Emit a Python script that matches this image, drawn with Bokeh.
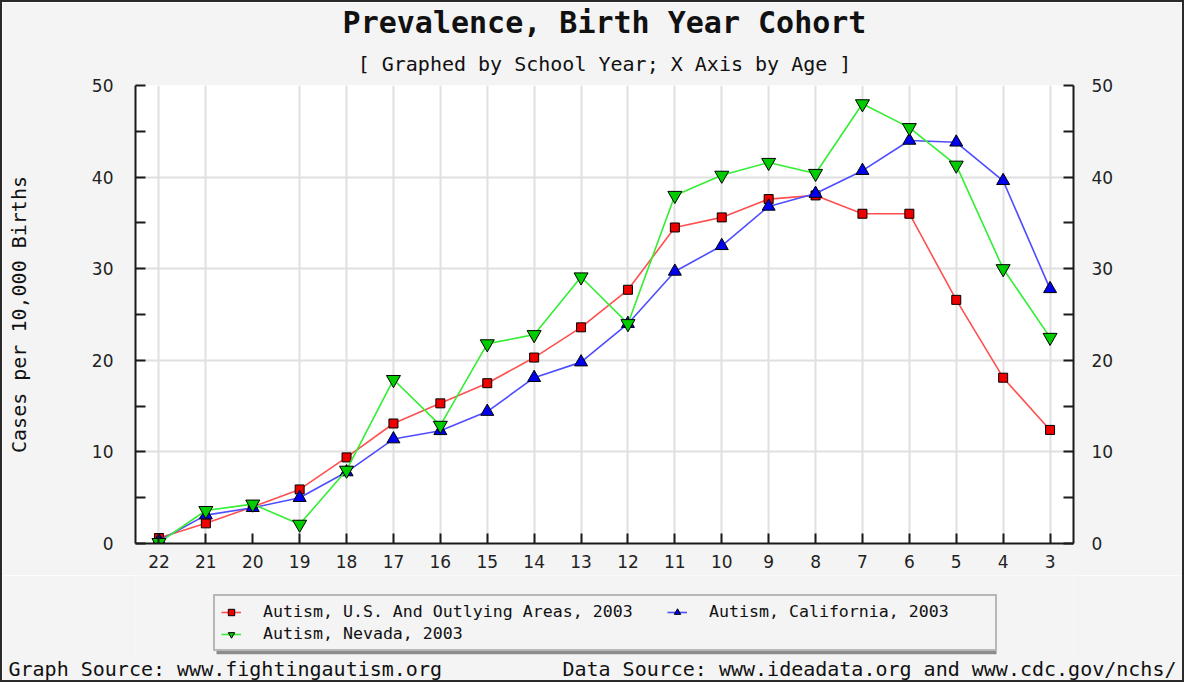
from bokeh.plotting import figure
from bokeh.layouts import column
from bokeh.models import (FactorRange, Range1d, LinearAxis, FixedTicker, Title,
                          Legend, LegendItem, BoxAnnotation)
from bokeh.embed import file_html
from bokeh.resources import INLINE

# ---- data -------------------------------------------------------------
ages = ["22", "21", "20", "19", "18", "17", "16", "15", "14", "13",
        "12", "11", "10", "9", "8", "7", "6", "5", "4", "3"]
us_vals = [0.6, 2.2, 4.0, 5.9, 9.4, 13.1, 15.3, 17.5, 20.3, 23.6,
           27.7, 34.5, 35.6, 37.6, 38.0, 36.0, 36.0, 26.6, 18.1, 12.4]
ca_vals = [0.3, 3.1, 3.9, 5.0, 7.8, 11.4, 12.3, 14.4, 18.1, 19.8,
           24.0, 29.7, 32.5, 36.8, 38.2, 40.7, 44.0, 43.8, 39.6, 27.8]
nv_vals = [0.1, 3.6, 4.3, 2.1, 8.0, 17.9, 12.9, 21.8, 22.8, 29.1,
           24.0, 38.0, 40.2, 41.6, 40.4, 48.0, 45.4, 41.3, 30.0, 22.5]
y_major = [0, 10, 20, 30, 40, 50]
y_minor = [5, 15, 25, 35, 45]

series_names = ["Autism, U.S. And Outlying Areas, 2003",
                "Autism, California, 2003",
                "Autism, Nevada, 2003"]
title_text = "Prevalence, Birth Year Cohort"
subtitle_text = "[ Graphed by School Year; X Axis by Age ]"
y_label = "Cases per 10,000 Births"
graph_source = "Graph Source: www.fightingautism.org"
data_source = "Data Source: www.ideadata.org and www.cdc.gov/nchs/"

BG = "#f4f4f4"
INK = "#111111"
MONO = "DejaVu Sans Mono"
SANS = "DejaVu Sans"
W = 1180
ML, MR = 133, 109          # frame margins shared by both figures
FRAME_W = W - ML - MR

US_STYLE = dict(line="#ff5050", fill="#ee0000", marker="square", size=9)
CA_STYLE = dict(line="#4d4dff", fill="#0000ee", marker="triangle", size=13)
NV_STYLE = dict(line="#33ee33", fill="#00cc00", marker="inverted_triangle", size=14)

# ---- main chart -------------------------------------------------------
p = figure(width=W, height=573, x_range=FactorRange(*ages),
           y_range=Range1d(0, 50), output_backend="svg",
           toolbar_location=None, min_border_left=ML, min_border_right=MR,
           min_border_top=83, min_border_bottom=32)
p.background_fill_color = "white"
p.border_fill_color = BG
p.outline_line_color = None

p.add_layout(Title(text=subtitle_text, align="center",
                   text_font=MONO, text_font_size="20px",
                   text_font_style="normal", text_color=INK, standoff=20), "above")
p.add_layout(Title(text=title_text, align="center",
                   text_font=MONO, text_font_size="30px",
                   text_font_style="bold", text_color=INK, standoff=0), "above")

ticker = FixedTicker(ticks=y_major, minor_ticks=y_minor)
p.yaxis.ticker = ticker
right_axis = LinearAxis(ticker=ticker)
p.add_layout(right_axis, "right")

for ax in [p.yaxis[0], right_axis]:
    ax.axis_line_width = 2
    ax.axis_line_color = "#1a1a1a"
    ax.major_tick_in = 10
    ax.major_tick_out = 0
    ax.minor_tick_in = 10
    ax.minor_tick_out = 0
    ax.major_tick_line_width = 2
    ax.minor_tick_line_width = 2
    ax.major_tick_line_color = "#1a1a1a"
    ax.minor_tick_line_color = "#1a1a1a"
    ax.major_label_text_font = SANS
    ax.major_label_text_font_size = "17px"
    ax.major_label_text_color = "#222222"
p.yaxis[0].major_label_standoff = 22
right_axis.major_label_standoff = 18
p.yaxis[0].axis_label = y_label
p.yaxis[0].axis_label_text_font = MONO
p.yaxis[0].axis_label_text_font_size = "20px"
p.yaxis[0].axis_label_text_font_style = "normal"
p.yaxis[0].axis_label_text_color = INK
p.yaxis[0].axis_label_standoff = 58

xa = p.xaxis[0]
xa.axis_line_width = 2
xa.axis_line_color = "#1a1a1a"
xa.major_tick_in = 10
xa.major_tick_out = 0
xa.major_tick_line_width = 2
xa.major_tick_line_color = "#1a1a1a"
xa.major_label_text_font = SANS
xa.major_label_text_font_size = "17px"
xa.major_label_text_color = "#222222"
xa.major_label_standoff = 11

p.xgrid.grid_line_color = "#e0e0e0"
p.xgrid.grid_line_width = 2
p.ygrid.grid_line_color = "#e0e0e0"
p.ygrid.grid_line_width = 2

for vals, st in [(us_vals, US_STYLE), (ca_vals, CA_STYLE), (nv_vals, NV_STYLE)]:
    p.line(ages, vals, line_color=st["line"], line_width=1.6)
    p.scatter(ages, vals, marker=st["marker"], size=st["size"],
              fill_color=st["fill"], line_color="black", line_width=1)

# ---- legend + source notes strip --------------------------------------
q = figure(width=W, height=105, x_range=Range1d(0, FRAME_W), y_range=Range1d(0, 79),
           output_backend="svg", toolbar_location=None,
           min_border_left=ML, min_border_right=MR, min_border_top=0,
           min_border_bottom=26, x_axis_location=None, y_axis_location=None)
q.background_fill_color = BG
q.border_fill_color = BG
q.outline_line_color = None
q.grid.visible = False

def legend_renderers(st):
    # off-range proxies: only their styling is used by the legend
    ln = q.line([-50, -40], [-50, -50], line_color=st["line"], line_width=1.6)
    mk = q.scatter([-50], [-50], marker=st["marker"], size=st["size"] - 2,
                   fill_color=st["fill"], line_color="black", line_width=1)
    return [ln, mk]

# drop shadow of the legend box
q.add_layout(BoxAnnotation(left=81, right=861, bottom=0, top=53,
                           fill_color="#8c8c8c", fill_alpha=1, line_color=None))

def style_legend(lg):
    lg.label_text_font = MONO
    lg.label_text_font_size = "16.6px"
    lg.label_text_color = INK
    lg.glyph_width = 20
    lg.glyph_height = 16
    lg.label_height = 16
    lg.label_standoff = 22
    lg.spacing = 3
    lg.padding = 6
    lg.margin = 0

leg_a = Legend(items=[
    LegendItem(label=series_names[0], renderers=legend_renderers(US_STYLE)),
    LegendItem(label=series_names[2], renderers=legend_renderers(NV_STYLE)),
], location=(78, 3), orientation="vertical")
style_legend(leg_a)
leg_a.label_width = 726
leg_a.border_line_color = "#7a7a7a"
leg_a.border_line_width = 2
leg_a.background_fill_color = BG
leg_a.background_fill_alpha = 1
q.add_layout(leg_a, "center")

leg_b = Legend(items=[
    LegendItem(label=series_names[1], renderers=legend_renderers(CA_STYLE)),
], location=(532, 33), orientation="vertical")
style_legend(leg_b)
leg_b.border_line_color = None
leg_b.background_fill_alpha = 0
q.add_layout(leg_b, "center")

footer = graph_source + "\u00a0" * 10 + data_source
q.add_layout(Title(text=footer, align="left", offset=-127,
                   text_font=MONO, text_font_size="20px",
                   text_font_style="normal", text_color=INK, standoff=0), "below")

layout = column(p, q, spacing=0, styles={"border": "2px solid #2a2a2a"})
open("out.html", "w").write(file_html(layout, INLINE))
